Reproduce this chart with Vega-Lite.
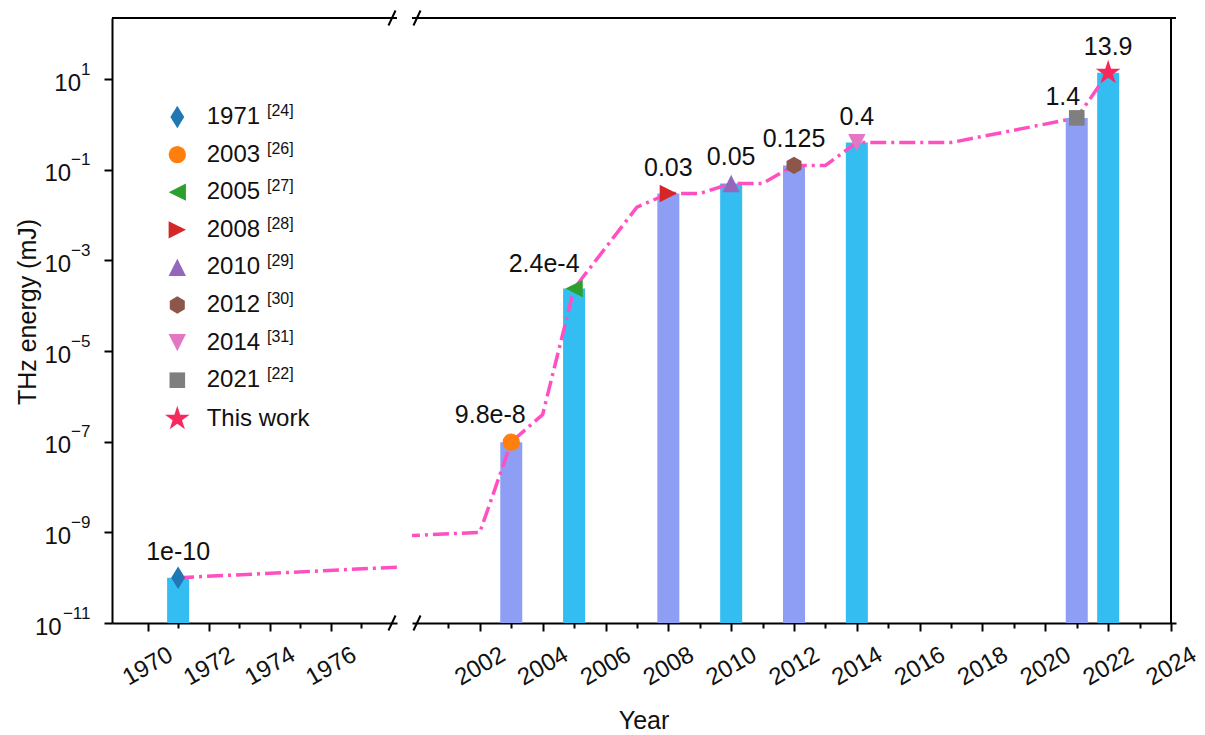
{
  "$schema": "https://vega.github.io/schema/vega-lite/v6.json",
  "padding": {"left": 15, "top": 6, "right": 0, "bottom": 0},
  "background": "white",
  "bounds": "flush",
  "config": {
    "font": "Liberation Sans",
    "view": {"stroke": null},
    "axis": {"grid": false, "labelColor": "#111", "titleColor": "#111", "domainColor": "#000", "tickColor": "#000", "domainWidth": 2, "tickWidth": 2, "labelFont": "Liberation Sans", "titleFont": "Liberation Sans", "titleFontWeight": "normal"},
    "legend": {"labelFont": "Liberation Sans", "labelColor": "#111"}
  },
  "datasets": {
    "pts": [
      {"year": 1971, "energy": 1e-10, "label": "1971", "ref": "[24]", "text": "1e-10"},
      {"year": 2003, "energy": 9.8e-8, "label": "2003", "ref": "[26]", "text": "9.8e-8"},
      {"year": 2005, "energy": 2.4e-4, "label": "2005", "ref": "[27]", "text": "2.4e-4"},
      {"year": 2008, "energy": 0.03, "label": "2008", "ref": "[28]", "text": "0.03"},
      {"year": 2010, "energy": 0.05, "label": "2010", "ref": "[29]", "text": "0.05"},
      {"year": 2012, "energy": 0.125, "label": "2012", "ref": "[30]", "text": "0.125"},
      {"year": 2014, "energy": 0.4, "label": "2014", "ref": "[31]", "text": "0.4"},
      {"year": 2021, "energy": 1.4, "label": "2021", "ref": "[22]", "text": "1.4"},
      {"year": 2022, "energy": 13.9, "label": "This work", "ref": null, "text": "13.9"}
    ],
    "trend": [
      {"year": 1971, "energy": 1e-10},
      {"year": 2002, "energy": 1e-9},
      {"year": 2003, "energy": 9.8e-8},
      {"year": 2004, "energy": 4e-7},
      {"year": 2005, "energy": 2.4e-4},
      {"year": 2007, "energy": 0.015},
      {"year": 2008, "energy": 0.03},
      {"year": 2009, "energy": 0.03},
      {"year": 2010, "energy": 0.05},
      {"year": 2011, "energy": 0.05},
      {"year": 2012, "energy": 0.125},
      {"year": 2013, "energy": 0.125},
      {"year": 2014, "energy": 0.4},
      {"year": 2017, "energy": 0.4},
      {"year": 2021, "energy": 1.4},
      {"year": 2022, "energy": 13.9}
    ],
    "one": [{}]
  },
  "spacing": 15,
  "resolve": {"scale": {"x": "independent", "y": "independent", "color": "independent", "shape": "independent", "stroke": "independent"}},
  "hconcat": [
    {
      "width": 285,
      "height": 605,
      "resolve": {"axis": {"y": "independent"}},
      "layer": [
        {
          "data": {"name": "pts"},
          "mark": {"type": "bar", "size": 22, "clip": true},
          "encoding": {
            "x": {"field": "year", "type": "quantitative", "scale": {"domain": [1969, 1978], "nice": false, "zero": false},
              "axis": {"values": [1970, 1971, 1972, 1973, 1974, 1975, 1976, 1977], "format": "d", "labelExpr": "datum.value % 2 == 0 ? datum.label : ''", "tickSize": {"condition": {"test": "datum.value % 2 == 0", "value": 8}, "value": 5}, "labelAngle": -30, "labelAlign": "center", "labelBaseline": "middle", "labelPadding": 35, "labelFontSize": 24, "labelOverlap": false, "labelFlush": false, "labelBound": false, "title": "Year", "titleFontSize": 25, "titleX": 531.5, "titleY": 105, "titleAngle": 0, "titleAlign": "center", "titleBaseline": "alphabetic"}},
            "y": {"field": "energy", "type": "quantitative", "scale": {"type": "log", "domain": [1e-11, 224], "nice": false},
              "axis": {"orient": "left", "values": [1e-11, 1e-9, 1e-7, 1e-5, 0.001, 0.1, 10], "labelExpr": "'10'", "tickSize": 8, "labelPadding": {"condition": [{"test": "datum.value > 3", "value": 23.5}, {"test": "datum.value < 3e-11", "value": 42.8}], "value": 33.4}, "labelOffset": 4, "labelFontSize": 24, "labelOverlap": false, "labelBaseline": "middle", "title": "THz energy (mJ)", "titleFontSize": 25, "titleX": -77, "titleY": 293.5, "titleAngle": 270, "titleAlign": "center", "titleBaseline": "alphabetic"}},
            "y2": {"datum": 1e-11},
            "color": {"condition": {"test": "indexof([2003, 2008, 2012, 2021], datum.year) >= 0", "value": "#8d9ef4"}, "value": "#33bdf0"}
          }
        },
        {
          "data": {"name": "trend"},
          "mark": {"type": "line", "color": "#ff4fc0", "strokeWidth": 3.5, "strokeDash": [16, 5, 3, 5], "clip": true},
          "encoding": {
            "x": {"field": "year", "type": "quantitative"},
            "y": {"field": "energy", "type": "quantitative", "axis": null}
          }
        },
        {
          "data": {"name": "pts"},
          "mark": {"type": "point", "filled": true, "size": 300, "opacity": 1, "strokeWidth": 0, "clip": true},
          "encoding": {
            "x": {"field": "year", "type": "quantitative"},
            "y": {"field": "energy", "type": "quantitative", "axis": null},
            "color": {"field": "label", "type": "nominal",
              "scale": {"domain": ["1971", "2003", "2005", "2008", "2010", "2012", "2014", "2021", "This work"], "range": ["#1f77b4", "#ff7f0e", "#2ca02c", "#d62728", "#9467bd", "#8c564b", "#e377c2", "#7f7f7f", "#f7285c"]},
              "legend": {"orient": "none", "legendX": 53.3, "legendY": 87, "title": null, "labelFontSize": 24, "symbolSize": 300, "labelOffset": 17.4, "rowPadding": 13.6, "padding": 0, "symbolStrokeWidth": 0, "symbolOpacity": 1}},
            "shape": {"field": "label", "type": "nominal",
              "scale": {"domain": ["1971", "2003", "2005", "2008", "2010", "2012", "2014", "2021", "This work"], "range": ["M0,-1.3L0.8,0L0,1.3L-0.8,0Z", "circle", "M-1,0L1,-1L1,1Z", "M1,0L-1,-1L-1,1Z", "M0,-1L1,1L-1,1Z", "M0,-1L0.866,-0.5L0.866,0.5L0,1L-0.866,0.5L-0.866,-0.5Z", "M0,1L1,-1L-1,-1Z", "M-0.9,-0.9L0.9,-0.9L0.9,0.9L-0.9,0.9Z", "M0,-1.5L0.337,-0.464L1.427,-0.464L0.545,0.177L0.882,1.214L0,0.573L-0.882,1.214L-0.545,0.177L-1.427,-0.464L-0.337,-0.464Z"]},
              "legend": {"orient": "none", "legendX": 53.3, "legendY": 87, "title": null, "labelFontSize": 24, "symbolSize": 300, "labelOffset": 17.4, "rowPadding": 13.6, "padding": 0, "symbolStrokeWidth": 0, "symbolOpacity": 1}}
          }
        },
        {
          "data": {"name": "pts"},
          "transform": [{"filter": "datum.ref != null"}],
          "mark": {"type": "point", "opacity": 0, "size": 1, "clip": true},
          "encoding": {
            "x": {"field": "year", "type": "quantitative"},
            "y": {"field": "energy", "type": "quantitative",
              "axis": {"orient": "left", "values": [1e-11, 1e-9, 1e-7, 1e-5, 0.001, 0.1, 10], "labelExpr": "datum.value > 3 ? '1' : datum.value > 0.03 ? '−1' : datum.value > 3e-4 ? '−3' : datum.value > 3e-6 ? '−5' : datum.value > 3e-8 ? '−7' : datum.value > 3e-10 ? '−9' : '−11'", "ticks": false, "domain": false, "labelPadding": 22, "labelOffset": -10, "labelFontSize": 17, "labelBaseline": "middle", "labelAlign": "right", "labelOverlap": false, "title": null}},
            "stroke": {"field": "ref", "type": "nominal",
              "scale": {"domain": ["[24]", "[26]", "[27]", "[28]", "[29]", "[30]", "[31]", "[22]"], "range": ["#000"]},
              "legend": {"orient": "none", "legendX": 139, "legendY": 85, "title": null, "labelFontSize": 16, "symbolSize": 1, "symbolOpacity": 0, "symbolStrokeWidth": 0, "labelOffset": 0, "rowPadding": 21.6, "padding": 0}}
          }
        },
        {
          "data": {"name": "pts"},
          "transform": [{"filter": "datum.year < 1990"}],
          "mark": {"type": "text", "fontSize": 25, "color": "#111", "align": "center", "baseline": "middle", "dy": -26, "clip": true},
          "encoding": {
            "x": {"field": "year", "type": "quantitative"},
            "y": {"field": "energy", "type": "quantitative", "axis": null},
            "text": {"field": "text"}
          }
        },
        {
          "data": {"name": "one"},
          "mark": {"type": "rule", "color": "#000", "strokeWidth": 2},
          "encoding": {"y": {"datum": 224, "axis": null}}
        },
        {
          "data": {"name": "one"},
          "mark": {"type": "point", "shape": "M-0.47,1L0.47,-1", "size": 225, "filled": false, "stroke": "#000", "strokeWidth": 2, "opacity": 1},
          "encoding": {"x": {"datum": 1978}, "y": {"datum": 224, "axis": null}}
        },
        {
          "data": {"name": "one"},
          "mark": {"type": "point", "shape": "M-0.47,1L0.47,-1", "size": 225, "filled": false, "stroke": "#000", "strokeWidth": 2, "opacity": 1},
          "encoding": {"x": {"datum": 1978}, "y": {"datum": 1e-11, "axis": null}}
        }
      ]
    },
    {
      "width": 764,
      "height": 605,
      "resolve": {"axis": {"x": "independent"}},
      "layer": [
        {
          "data": {"name": "pts"},
          "mark": {"type": "bar", "size": 22, "clip": true},
          "encoding": {
            "x": {"field": "year", "type": "quantitative", "scale": {"domain": [2000, 2024], "nice": false, "zero": false},
              "axis": {"orient": "bottom", "values": [2002, 2004, 2006, 2008, 2010, 2012, 2014, 2016, 2018, 2020, 2022, 2024], "format": "d", "tickSize": 8, "labelAngle": -30, "labelAlign": "center", "labelBaseline": "middle", "labelPadding": 35, "labelFontSize": 24, "labelOverlap": false, "labelFlush": false, "labelBound": false, "title": null}},
            "y": {"field": "energy", "type": "quantitative", "scale": {"type": "log", "domain": [1e-11, 224], "nice": false}, "axis": null},
            "y2": {"datum": 1e-11},
            "color": {"condition": {"test": "indexof([2003, 2008, 2012, 2021], datum.year) >= 0", "value": "#8d9ef4"}, "value": "#33bdf0"}
          }
        },
        {
          "data": {"name": "trend"},
          "mark": {"type": "line", "color": "#ff4fc0", "strokeWidth": 3.5, "strokeDash": [16, 5, 3, 5], "clip": true},
          "encoding": {
            "x": {"field": "year", "type": "quantitative",
              "axis": {"orient": "bottom", "values": [2001, 2003, 2005, 2007, 2009, 2011, 2013, 2015, 2017, 2019, 2021, 2023], "tickSize": 5, "labels": false, "domain": false, "title": null}},
            "y": {"field": "energy", "type": "quantitative", "axis": null}
          }
        },
        {
          "data": {"name": "pts"},
          "mark": {"type": "point", "filled": true, "size": 300, "opacity": 1, "strokeWidth": 0, "clip": true},
          "encoding": {
            "x": {"field": "year", "type": "quantitative", "axis": null},
            "y": {"field": "energy", "type": "quantitative", "axis": null},
            "color": {"field": "label", "type": "nominal",
              "scale": {"domain": ["1971", "2003", "2005", "2008", "2010", "2012", "2014", "2021", "This work"], "range": ["#1f77b4", "#ff7f0e", "#2ca02c", "#d62728", "#9467bd", "#8c564b", "#e377c2", "#7f7f7f", "#f7285c"]},
              "legend": null},
            "shape": {"field": "label", "type": "nominal",
              "scale": {"domain": ["1971", "2003", "2005", "2008", "2010", "2012", "2014", "2021", "This work"], "range": ["M0,-1.3L0.8,0L0,1.3L-0.8,0Z", "circle", "M-1,0L1,-1L1,1Z", "M1,0L-1,-1L-1,1Z", "M0,-1L1,1L-1,1Z", "M0,-1L0.866,-0.5L0.866,0.5L0,1L-0.866,0.5L-0.866,-0.5Z", "M0,1L1,-1L-1,-1Z", "M-0.9,-0.9L0.9,-0.9L0.9,0.9L-0.9,0.9Z", "M0,-1.5L0.337,-0.464L1.427,-0.464L0.545,0.177L0.882,1.214L0,0.573L-0.882,1.214L-0.545,0.177L-1.427,-0.464L-0.337,-0.464Z"]},
              "legend": null}
          }
        },
        {
          "data": {"name": "pts"},
          "transform": [{"filter": "datum.year > 1990 && datum.year != 2003 && datum.year != 2005 && datum.year != 2021"}],
          "mark": {"type": "text", "fontSize": 25, "color": "#111", "align": "center", "baseline": "middle", "dy": -26, "clip": true},
          "encoding": {
            "x": {"field": "year", "type": "quantitative", "axis": null},
            "y": {"field": "energy", "type": "quantitative", "axis": null},
            "text": {"field": "text"}
          }
        },
        {
          "data": {"name": "pts"},
          "transform": [{"filter": "datum.year == 2003"}],
          "mark": {"type": "text", "fontSize": 25, "color": "#111", "align": "center", "baseline": "middle", "dx": -21, "dy": -27, "clip": true},
          "encoding": {
            "x": {"field": "year", "type": "quantitative", "axis": null},
            "y": {"field": "energy", "type": "quantitative", "axis": null},
            "text": {"field": "text"}
          }
        },
        {
          "data": {"name": "pts"},
          "transform": [{"filter": "datum.year == 2005"}],
          "mark": {"type": "text", "fontSize": 25, "color": "#111", "align": "center", "baseline": "middle", "dx": -30, "dy": -25, "clip": true},
          "encoding": {
            "x": {"field": "year", "type": "quantitative", "axis": null},
            "y": {"field": "energy", "type": "quantitative", "axis": null},
            "text": {"field": "text"}
          }
        },
        {
          "data": {"name": "pts"},
          "transform": [{"filter": "datum.year == 2021"}],
          "mark": {"type": "text", "fontSize": 25, "color": "#111", "align": "center", "baseline": "middle", "dx": -14, "dy": -21, "clip": true},
          "encoding": {
            "x": {"field": "year", "type": "quantitative", "axis": null},
            "y": {"field": "energy", "type": "quantitative", "axis": null},
            "text": {"field": "text"}
          }
        },
        {
          "data": {"name": "one"},
          "mark": {"type": "rule", "color": "#000", "strokeWidth": 2},
          "encoding": {"y": {"datum": 224, "axis": null}}
        },
        {
          "data": {"name": "one"},
          "mark": {"type": "rule", "color": "#000", "strokeWidth": 2},
          "encoding": {"x": {"datum": 2024, "axis": null}}
        },
        {
          "data": {"name": "one"},
          "mark": {"type": "point", "shape": "M-0.47,1L0.47,-1", "size": 225, "filled": false, "stroke": "#000", "strokeWidth": 2, "opacity": 1},
          "encoding": {"x": {"datum": 2000, "axis": null}, "y": {"datum": 224, "axis": null}}
        },
        {
          "data": {"name": "one"},
          "mark": {"type": "point", "shape": "M-0.47,1L0.47,-1", "size": 225, "filled": false, "stroke": "#000", "strokeWidth": 2, "opacity": 1},
          "encoding": {"x": {"datum": 2000, "axis": null}, "y": {"datum": 1e-11, "axis": null}}
        }
      ]
    }
  ]
}
